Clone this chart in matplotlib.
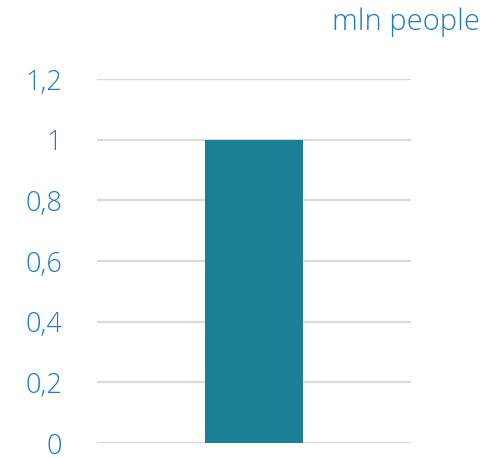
import matplotlib.pyplot as plt
from matplotlib.ticker import FuncFormatter

categories = ['']
values = [1.0]
y_ticks = [0, 0.2, 0.4, 0.6, 0.8, 1.0, 1.2]
unit_label = 'mln people'

bar_color = '#1a8095'
text_color = '#1f7cc4'
grid_color = '#dadada'

plt.rcParams['font.family'] = ['Open Sans', 'DejaVu Sans']

fig = plt.figure(figsize=(5.0, 4.58), dpi=100)
ax = fig.add_axes([0.194, 0.0327, 0.628, 0.7948])

ax.bar(range(len(categories)), values, width=0.315, color=bar_color, zorder=3)
ax.set_xlim(-0.5, 0.5)
ax.set_ylim(0, 1.2)
ax.set_yticks(y_ticks)

def comma_fmt(v, pos):
    s = f'{v:.1f}'.rstrip('0').rstrip('.')
    return s.replace('.', ',')

ax.yaxis.set_major_formatter(FuncFormatter(comma_fmt))
ax.set_xticks([])
ax.tick_params(axis='y', length=0, pad=25, labelsize=19.5, labelcolor=text_color)
for lab in ax.get_yticklabels():
    lab.set_fontweight('light')

ax.grid(axis='y', color=grid_color, linewidth=1.6, zorder=2)
ax.set_axisbelow(False)
for s in ax.spines.values():
    s.set_visible(False)

fig.text(0.96, 0.952, unit_label, ha='right', va='center', fontsize=21,
         color=text_color, fontweight='light')

fig.savefig('out.png', dpi=100)
